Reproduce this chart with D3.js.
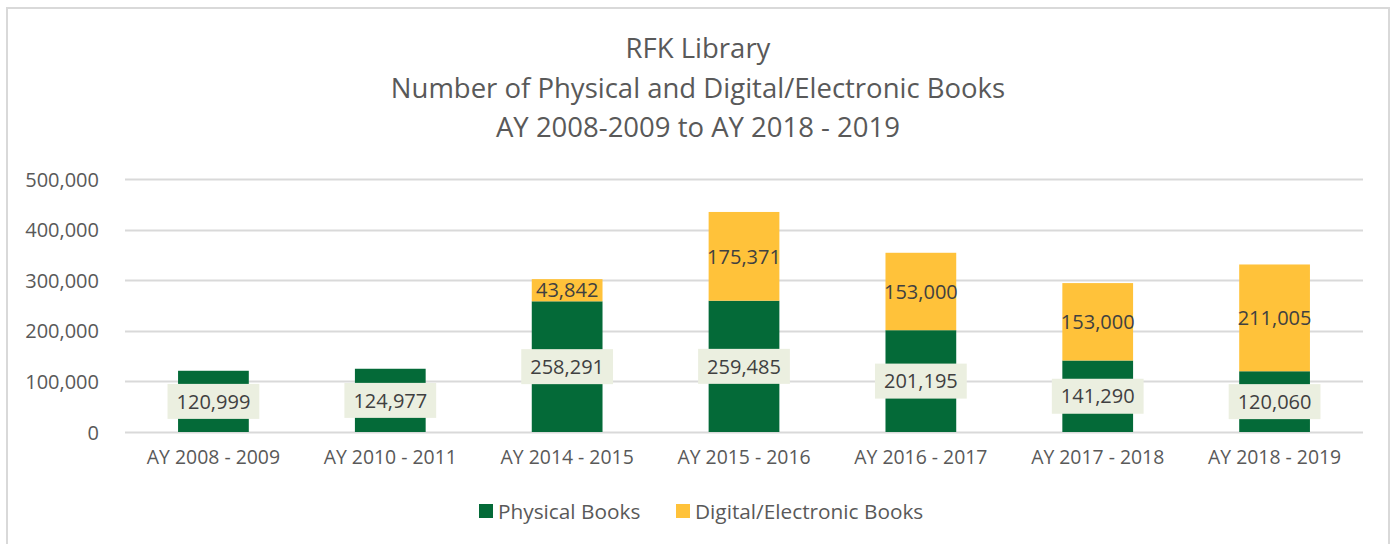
<!DOCTYPE html>
<html>
<head>
<meta charset="utf-8">
<script src="https://cdn.jsdelivr.net/npm/d3@7"></script>
<style>
  body { margin: 0; background: #fff; }
  svg { display: block; font-family: "Open Sans", sans-serif; }
</style>
</head>
<body>
<svg id="canvas" width="1395" height="544"></svg>
<script>
var categories = ["AY 2008 - 2009", "AY 2010 - 2011", "AY 2014 - 2015", "AY 2015 - 2016",
                  "AY 2016 - 2017", "AY 2017 - 2018", "AY 2018 - 2019"];
var physicalBooks = [120999, 124977, 258291, 259485, 201195, 141290, 120060];
var digitalBooks = [0, 0, 43842, 175371, 153000, 153000, 211005];
var seriesNames = ["Physical Books", "Digital/Electronic Books"];
var yTicks = [0, 100000, 200000, 300000, 400000, 500000];
var titleLines = ["RFK Library", "Number of Physical and Digital/Electronic Books",
                  "AY 2008-2009 to AY 2018 - 2019"];

var colors = ["#046a38", "#ffc23a"];
var textColor = "#595959";

var svg = d3.select("#canvas"),
    margin = {left: 125, right: 32, top: 179, bottom: 112},
    width = 1395 - margin.left - margin.right,
    height = 544 - margin.top - margin.bottom;

// chart frame
svg.append("rect")
  .attr("x", 7)
  .attr("y", 8)
  .attr("width", 1382)
  .attr("height", 560)
  .style("fill", "none")
  .style("stroke", "#d9d9d9")
  .style("stroke-width", 2);

// title
svg.append("g")
  .selectAll("text")
  .data(titleLines)
  .enter()
  .append("text")
  .attr("x", 698)
  .attr("y", function(d, i) { return 58 + i * 39.5; })
  .attr("text-anchor", "middle")
  .style("font-size", "27.5px")
  .style("fill", textColor)
  .text(function(d) { return d; });

var rows = categories.map(function(c, i) {
  return {category: c, physical: physicalBooks[i], digital: digitalBooks[i]};
});

var stack = d3.stack().keys(["physical", "digital"]);
var layers = stack(rows);

var x = d3.scaleBand()
  .domain(categories)
  .range([0, width])
  .paddingInner(0.6)
  .paddingOuter(0.3);

var y = d3.scaleLinear()
  .domain([0, 500000])
  .range([height, 0]);

var plot = svg.append("g")
  .attr("transform", "translate(" + margin.left + "," + margin.top + ")");

// gridlines
plot.append("g")
  .selectAll("line")
  .data(yTicks)
  .enter()
  .append("line")
  .attr("x1", 0)
  .attr("x2", width)
  .attr("y1", function(d) { return Math.round(y(d)) + 0.5; })
  .attr("y2", function(d) { return Math.round(y(d)) + 0.5; })
  .style("stroke", "#d9d9d9")
  .style("stroke-width", 2);

// y axis labels
var yAxis = plot.append("g")
  .attr("transform", "translate(-23,0)")
  .call(d3.axisLeft(y).tickValues(yTicks).tickSize(0).tickFormat(d3.format(",")));
yAxis.select(".domain").remove();
yAxis.selectAll("text")
  .attr("dy", "0.35em")
  .style("font-family", "Open Sans")
  .style("font-size", "20px")
  .style("fill", textColor);

// x axis labels
var xAxis = plot.append("g")
  .attr("transform", "translate(0," + height + ")")
  .call(d3.axisBottom(x).tickSize(0).tickPadding(18));
xAxis.select(".domain").remove();
xAxis.selectAll("text")
  .style("font-family", "Open Sans")
  .style("font-size", "19.4px")
  .style("fill", textColor);

// bars
var layer = plot.selectAll("g.layer")
  .data(layers)
  .enter()
  .append("g")
  .attr("class", "layer")
  .style("fill", function(d, i) { return colors[i]; });

layer.selectAll("rect")
  .data(function(d) { return d.filter(function(s) { return s[1] > s[0]; }); })
  .enter()
  .append("rect")
  .attr("x", function(d) { return x(d.data.category); })
  .attr("width", x.bandwidth())
  .attr("y", function(d) { return y(d[1]); })
  .attr("height", function(d) { return y(d[0]) - y(d[1]); });

// data labels
var labels = plot.append("g");
layers.forEach(function(series, si) {
  series.forEach(function(s) {
    if(s[1] <= s[0]) return;
    var cx = x(s.data.category) + x.bandwidth() / 2;
    var cy = (y(s[0]) + y(s[1])) / 2;
    var g = labels.append("g").attr("transform", "translate(" + cx + "," + cy + ")");
    var box = g.append("rect");
    var t = g.append("text")
      .attr("text-anchor", "middle")
      .attr("dy", "0.36em")
      .style("font-size", "20px")
      .style("fill", "#404040")
      .text(d3.format(",")(s[1] - s[0]));
    if(si === 0) {
      var w = t.node().getComputedTextLength() + 18;
      box.attr("x", -w / 2)
        .attr("y", -17.5)
        .attr("width", w)
        .attr("height", 35)
        .style("fill", "#ebefe0");
    } else {
      box.remove();
    }
  });
});

// legend
var legendX = [479, 676];
var legend = svg.append("g")
  .selectAll("g")
  .data(seriesNames)
  .enter()
  .append("g")
  .attr("transform", function(d, i) { return "translate(" + legendX[i] + ",504)"; });

legend.append("rect")
  .attr("width", 14)
  .attr("height", 14)
  .style("fill", function(d, i) { return colors[i]; });

legend.append("text")
  .attr("x", 19)
  .attr("y", 7)
  .attr("dy", "0.36em")
  .style("font-size", "20.8px")
  .style("fill", textColor)
  .text(function(d) { return d; });
</script>
</body>
</html>
